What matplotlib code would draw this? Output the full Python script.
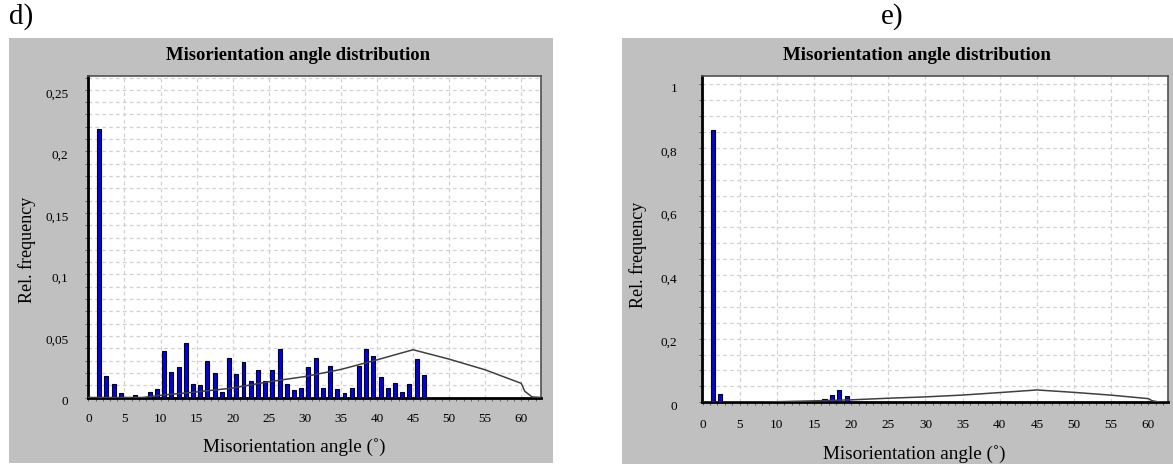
import matplotlib
matplotlib.use("Agg")
import matplotlib.pyplot as plt
import matplotlib.patches as mpatches
import matplotlib.transforms as mtransforms
from matplotlib.ticker import MultipleLocator, FixedLocator

plt.rcParams['font.family'] = ['Liberation Serif', 'DejaVu Serif']

# ---------------- data ----------------
# panel d) : bin index (degrees) and relative frequency
bins_d = list(range(1, 47))
freq_d = [0.218, 0.0171, 0.0108, 0.0033, 0.0, 0.002, 0.0, 0.0043, 0.0068, 0.0374,
          0.0211, 0.0244, 0.0442, 0.0111, 0.0098, 0.030, 0.0198, 0.0046, 0.032, 0.0192,
          0.0287, 0.0136, 0.0225, 0.0136, 0.0225, 0.0396, 0.0108, 0.0062, 0.0081, 0.0247,
          0.0325, 0.0076, 0.0257, 0.0068, 0.0033, 0.0081, 0.0257, 0.0396, 0.0339, 0.0163,
          0.0081, 0.0114, 0.0041, 0.0108, 0.0314, 0.0184]

# panel e)
bins_e = [1, 2, 16, 17, 18, 19]
freq_e = [0.855, 0.025, 0.0105, 0.023, 0.038, 0.020]

# random (Mackenzie) distribution curve
mack_angle = [0, 5, 7.5, 10, 15, 20, 25, 30, 35, 40, 45, 50, 55, 60, 60.5, 61.5, 62.8]
mack_freq = [0, 0.0, 0.0, 0.0018, 0.0045, 0.0077, 0.0128, 0.0170, 0.0228, 0.0306, 0.0388,
             0.0312, 0.0225, 0.0115, 0.005, 0.0005, 0.0]

title_txt = "Misorientation angle distribution"
xlabel_txt = "Misorientation angle (\u02da)"
ylabel_txt = "Rel. frequency"
yticks_d = [0, 0.05, 0.1, 0.15, 0.2, 0.25]
yticklabels_d = ["0", "0,05", "0,1", "0,15", "0,2", "0,25"]
yticks_e = [0, 0.2, 0.4, 0.6, 0.8, 1.0]
yticklabels_e = ["0", "0,2", "0,4", "0,6", "0,8", "1"]
xticks = list(range(0, 61, 5))

# ---------------- figure ----------------
W, H = 1173, 466
fig = plt.figure(figsize=(W / 100, H / 100), dpi=100)
fig.patch.set_facecolor('white')

def fx(px):
    return px / W

def fy(py):
    return 1 - py / H

GRAY = '#c0c0c0'
# gray panels
for (x0, y0, x1, y1) in [(9.3, 38.3, 553.3, 462.7), (621.7, 38.3, 1173, 463.5)]:
    r = mpatches.Rectangle((fx(x0), fy(y1)), fx(x1) - fx(x0), fy(y0) - fy(y1),
                           transform=fig.transFigure, facecolor=GRAY,
                           edgecolor='none', zorder=-10)
    fig.add_artist(r)

def make_axes(box, xlim, ylim, yminor, yticks, ylabels, bins, freq, offset, xpad, ypad):
    x0, y0, x1, y1 = box
    ax = fig.add_axes([fx(x0), fy(y1), fx(x1) - fx(x0), fy(y0) - fy(y1)])
    ax.set_zorder(1)
    ax.set_facecolor('white')
    ax.set_axisbelow(True)
    centers = [b + offset for b in bins]
    ax.bar(centers, freq, width=0.55, color='#0000ee', edgecolor='black', linewidth=0.8, zorder=3)
    ax.plot(mack_angle, mack_freq, color='#404040', lw=1.1, zorder=4)
    ax.set_xlim(*xlim)
    ax.set_ylim(*ylim)
    ax.xaxis.set_major_locator(FixedLocator(xticks))
    ax.set_xticklabels([str(t) for t in xticks])
    ax.xaxis.set_minor_locator(MultipleLocator(1))
    ax.yaxis.set_major_locator(FixedLocator(yticks))
    ax.set_yticklabels(ylabels)
    ax.yaxis.set_minor_locator(MultipleLocator(yminor))
    gkw = dict(color='#d2d2d2', ls=(0, (3, 2.5)), lw=0.9)
    ax.grid(True, which='major', axis='x', **gkw)
    ax.grid(True, which='minor', axis='y', **gkw)
    ax.grid(True, which='major', axis='y', **gkw)
    ax.tick_params(axis='both', which='both', direction='out', length=2.5, width=0.7,
                   color='#606060', labelsize=9.5)
    ax.tick_params(axis='x', which='major', pad=xpad)
    ax.tick_params(axis='y', which='major', pad=ypad)
    for lab in ax.get_yticklabels():
        lab.set_transform(lab.get_transform() +
                          mtransforms.ScaledTranslation(0, -3 / 100, fig.dpi_scale_trans))
    for s in ['left', 'bottom']:
        ax.spines[s].set_linewidth(2.0)
        ax.spines[s].set_color('black')
    for s in ['top', 'right']:
        ax.spines[s].set_linewidth(1.2)
        ax.spines[s].set_color('#505050')
    return ax

ax1 = make_axes((87.7, 75.7, 540.7, 397.5), (-0.1, 62.7), (0, 0.2615), 0.01,
                yticks_d, yticklabels_d, bins_d, freq_d, 0.5, 9.0, 11.5)
ax2 = make_axes((701.5, 76.0, 1167.7, 402.3), (-0.15, 62.6), (0, 1.026), 0.05,
                yticks_e, yticklabels_e, bins_e, freq_e, 0.4, 9.5, 15.0)

# titles and labels
fig.text(fx(297.5), fy(55), title_txt, ha='center', va='center', fontsize=13.4, fontweight='bold')
fig.text(fx(917), fy(56), title_txt, ha='center', va='center', fontsize=13.6, fontweight='bold')
fig.text(fx(294), fy(447), xlabel_txt, ha='center', va='center', fontsize=13.8)
fig.text(fx(914), fy(454), xlabel_txt, ha='center', va='center', fontsize=13.8)
fig.text(fx(27.2), fy(250), ylabel_txt, ha='center', va='center', rotation=90, fontsize=13)
fig.text(fx(638.4), fy(255), ylabel_txt, ha='center', va='center', rotation=90, fontsize=13)
fig.text(fx(21), fy(17), "d)", ha='center', va='center', fontsize=21)
fig.text(fx(892), fy(17), "e)", ha='center', va='center', fontsize=21)

fig.savefig("out.png", dpi=100)
